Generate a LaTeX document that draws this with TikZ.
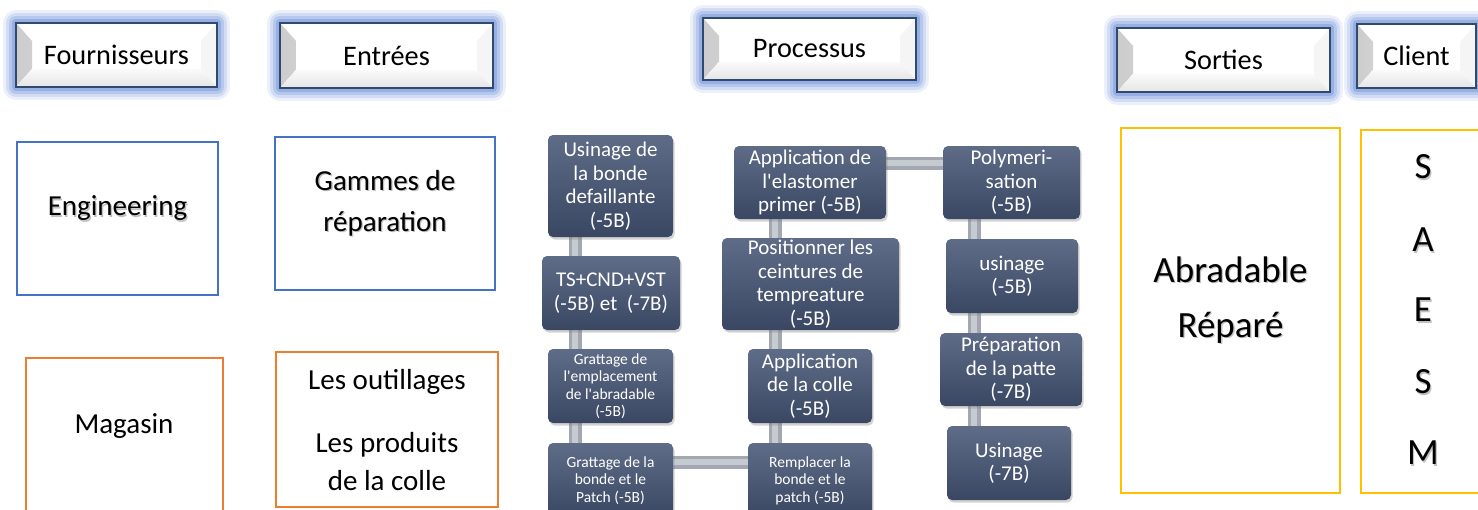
\documentclass[tikz,border=0pt]{standalone}
\usepackage{fontspec}
\setmainfont{Carlito}
% a family without the TeX quote mapping, so that ' stays straight
\newfontfamily\carl{Carlito}
\usetikzlibrary{calc,shadows,backgrounds}

\definecolor{glowblue}{HTML}{5F84D6}
\definecolor{hdrline}{HTML}{2F4A6B}
\definecolor{boxblue}{HTML}{4472C4}
\definecolor{boxorange}{HTML}{ED7D31}
\definecolor{boxgold}{HTML}{FFC000}
\definecolor{steptop}{HTML}{5F6C87}
\definecolor{stepbot}{HTML}{3A4763}
\definecolor{barouter}{HTML}{A2A7B1}
\definecolor{barinner}{HTML}{C6CAD1}

\tikzset{
  % bevelled header box with a soft blue glow
  hdr/.style={
    preaction={draw=glowblue, line width=26pt, opacity=.12, line join=round},
    preaction={draw=glowblue, line width=20pt, opacity=.18, line join=round},
    preaction={draw=glowblue, line width=14pt, opacity=.25, line join=round},
    preaction={draw=glowblue, line width=8pt, opacity=.35, line join=round},
    fill=white, draw=hdrline, line width=1.3pt, inner sep=0pt,
    font=\carl\fontsize{28.3}{31}\selectfont,
    path picture={
      \fill[left color=black!20, right color=black!3]
        (path picture bounding box.north west) -- ++(16,18)
        -- ($(path picture bounding box.south west)+(16,-18)$)
        -- (path picture bounding box.south west) -- cycle;
      \fill[top color=black!2, bottom color=black!10]
        (path picture bounding box.south west) -- ++(16,-18)
        -- ($(path picture bounding box.south east)+(-16,-18)$)
        -- (path picture bounding box.south east) -- cycle;
      \fill[black!4]
        (path picture bounding box.north east) -- ++(-16,18)
        -- ($(path picture bounding box.south east)+(-16,-18)$)
        -- (path picture bounding box.south east) -- cycle;
    }},
  plainbox/.style={draw=#1, line width=2.2pt, fill=white, inner sep=0pt},
  label29/.style={inner sep=0pt, align=center, font=\carl\fontsize{29}{41}\selectfont},
  label37/.style={inner sep=0pt, align=center, font=\carl\fontsize{37}{55}\selectfont},
  shadowed/.style={text=black!40, opacity=.6},
  stepbox/.style={rounded corners=5pt, top color=steptop, bottom color=stepbot,
    draw=none, text=white, align=center, inner sep=0pt,
    font=\carl\fontsize{21}{23.5}\selectfont,
    drop shadow={shadow xshift=1.5pt, shadow yshift=-2.5pt, opacity=.35}},
  smallstep/.style={stepbox, font=\carl\fontsize{15.5}{17.5}\selectfont},
  bar/.style={line width=13pt, draw=barouter,
    postaction={draw=barinner, line width=6pt}},
}

\begin{document}
\begin{tikzpicture}[x=1pt,y=-1pt]
\useasboundingbox (0,0) rectangle (1478,509);
\clip (0,0) rectangle (1478,509);

% ---------- column headers ----------
\node[hdr, minimum width=201, minimum height=64] (hF) at (116.5,55) {Fournisseurs};
\node[hdr, minimum width=213, minimum height=65] (hE) at (386.5,55.5) {Entrées};
\node[hdr, minimum width=213, minimum height=62] (hP) at (809.5,49) {Processus};
\node[hdr, minimum width=213, minimum height=64] (hS) at (1223.5,60) {Sorties};
\node[hdr, minimum width=119, minimum height=64] (hC) at (1416.5,56) {Client};

% ---------- suppliers ----------
\node[plainbox=boxblue, minimum width=201, minimum height=153] (engbox) at (117.5,218.5) {};
\node[label29, shadowed] (engS) at (118.8,209.6) {Engineering};
\node[label29] (eng) at (117.5,208) {Engineering};

\node[plainbox=boxorange, minimum width=197, minimum height=170] (magbox) at (124.5,443) {};
\node[label29] (mag) at (124,426) {Magasin};

% ---------- inputs ----------
\node[plainbox=boxblue, minimum width=220, minimum height=153] (gambox) at (385,213.5) {};
\node[label29, shadowed] (gamS) at (386.3,204.6) {Gammes de\\réparation};
\node[label29] (gam) at (385,203) {Gammes de\\réparation};

\node[plainbox=boxorange, minimum width=222, minimum height=155] (outbox) at (387,429.5) {};
\node[label29] (outil) at (387,382) {Les outillages};
\node[label29, font=\carl\fontsize{29}{38}\selectfont] (prod) at (387,462) {Les produits\\de la colle};

% ---------- outputs and client ----------
\node[plainbox=boxgold, minimum width=219, minimum height=365] (abrbox) at (1230.5,310.5) {};
\node[label37, shadowed] (abrS) at (1231.8,301.3) {Abradable\\Réparé};
\node[label37] (abr) at (1230.5,299.7) {Abradable\\Réparé};

\node[plainbox=boxgold, minimum width=140, minimum height=363] (clibox) at (1431,311.5) {};
\foreach \l/\y [count=\i] in {S/167,A/240,E/310,S/382,M/453}{
  \node[label37, shadowed] (cliS\i) at (1424.3,\y+1.6) {\l};
  \node[label37] (cli\i) at (1423,\y) {\l};
}

% ---------- process steps ----------
\node[stepbox, minimum width=125, minimum height=102] (u1) at (610.5,186)
  {Usinage de\\la bonde\\defaillante\\(-5B)};
\node[stepbox, minimum width=138, minimum height=74] (u2) at (611,293)
  {TS+CND+VST\\(-5B) et\ \ (-7B)};
\node[smallstep, minimum width=125, minimum height=74] (u3) at (610.5,386)
  {Grattage de\\l'emplacement\\de l'abradable\\(-5B)};
\node[smallstep, minimum width=125, minimum height=75] (u4) at (610.5,480.5)
  {Grattage de la\\bonde et le\\Patch (-5B)};

\node[stepbox, minimum width=152, minimum height=73] (p1) at (810,182.5)
  {Application de\\l'elastomer\\primer (-5B)};
\node[stepbox, minimum width=177, minimum height=92] (p2) at (810.5,284)
  {Positionner les\\ceintures de\\tempreature\\(-5B)};
\node[stepbox, minimum width=124, minimum height=74] (p3) at (810,386)
  {Application\\de la colle\\(-5B)};
\node[smallstep, minimum width=124, minimum height=75] (p4) at (810,480.5)
  {Remplacer la\\bonde et le\\patch (-5B)};

\node[stepbox, minimum width=137, minimum height=73] (q1) at (1011.5,182.5)
  {Polymeri-\\sation\\(-5B)};
\node[stepbox, minimum width=132, minimum height=74] (q2) at (1012,276)
  {usinage\\(-5B)};
\node[stepbox, minimum width=142, minimum height=73] (q3) at (1011,369.5)
  {Préparation\\de la patte\\(-7B)};
\node[stepbox, minimum width=124, minimum height=74] (q4) at (1009,463)
  {Usinage\\(-7B)};

% guide lines for the connector bars
\coordinate (xl) at (575,0);
\coordinate (xm) at (775,0);
\coordinate (xr) at (974,0);
\coordinate (yb) at (0,462);
\coordinate (yt) at (0,163);

% ---------- connector bars ----------
\begin{scope}[on background layer]
  \draw[bar] (u1.south -| xl) -- (u2.north -| xl);
  \draw[bar] (u2.south -| xl) -- (u3.north -| xl);
  \draw[bar] (u3.south -| xl) -- (u4.north -| xl);
  \draw[bar] (u4.east |- yb) -- (p4.west |- yb);
  \draw[bar] (p4.north -| xm) -- (p3.south -| xm);
  \draw[bar] (p3.north -| xm) -- (p2.south -| xm);
  \draw[bar] (p2.north -| xm) -- (p1.south -| xm);
  \draw[bar] (p1.east |- yt) -- (q1.west |- yt);
  \draw[bar] (q1.south -| xr) -- (q2.north -| xr);
  \draw[bar] (q2.south -| xr) -- (q3.north -| xr);
  \draw[bar] (q3.south -| xr) -- (q4.north -| xr);
\end{scope}
\end{tikzpicture}
\end{document}
